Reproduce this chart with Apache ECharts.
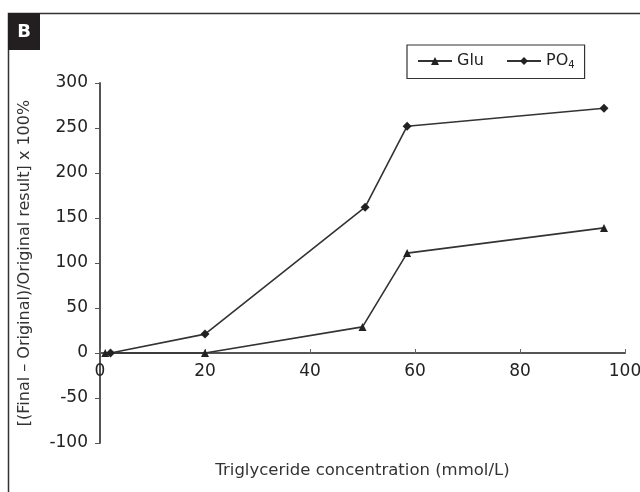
<!DOCTYPE html>
<html>
<head>
<meta charset="utf-8">
<script src="https://cdn.jsdelivr.net/npm/echarts@6/dist/echarts.min.js"></script>
<style>
  html, body { margin: 0; padding: 0; background: #fff; }
  #chart { width: 640px; height: 492px; }
</style>
</head>
<body>
<div id="chart"></div>
<script>
const gluX = [1, 20, 50, 58.5, 96];
const gluY = [0, 0, 29, 111, 139];
const po4X = [2, 20, 50.5, 58.5, 96];
const po4Y = [0, 21, 162, 252, 272];
const seriesNames = ['Glu', 'PO4'];
const xTitle = 'Triglyceride concentration (mmol/L)';
const yTitle = '[(Final \u2013 Original)/Original result] x 100%';
const panelLabel = 'B';

const font = 'DejaVu Sans, sans-serif';
const pair = (xs, ys) => xs.map((x, i) => [x, ys[i]]);

const chart = echarts.init(document.getElementById('chart'));
chart.setOption({
    animation: false,
    textStyle: { fontFamily: font },
    grid: { left: 100, right: 15, top: 83, bottom: 49, outerBoundsMode: 'none', containLabel: false },
    graphic: [
        // outer frame (runs off right/bottom edge)
        { type: 'rect', shape: { x: 8.5, y: 13.5, width: 700, height: 600 },
          style: { fill: 'none', stroke: '#333', lineWidth: 1.5 } },
        { type: 'rect', shape: { x: 8, y: 13, width: 32, height: 37 },
          style: { fill: '#231f20' } },
        { type: 'text', x: 24, y: 32,
          style: { text: panelLabel, fill: '#fff', font: 'bold 18px ' + font,
                   align: 'center', verticalAlign: 'middle' } }
    ],
    legend: {
        data: seriesNames,
        left: 407, top: 45,
        width: 186, height: 35,
        orient: 'horizontal',
        padding: [8, 10, 8, 10],
        borderColor: '#333', borderWidth: 1.2,
        itemWidth: 34, itemHeight: 10, itemGap: 22,
        formatter: name => name === 'PO4' ? 'PO{s|4}' : name,
        textStyle: {
            fontSize: 16, color: '#222', fontFamily: font,
            rich: { s: { fontSize: 10, fontFamily: font, color: '#222', padding: [9, 0, 0, 0] } }
        }
    },
    xAxis: {
        type: 'value',
        min: 0, max: 100, interval: 20,
        name: xTitle,
        nameLocation: 'middle',
        nameGap: 19,
        nameTextStyle: { fontSize: 16.5, color: '#333' },
        axisLine: { onZero: true, lineStyle: { color: '#555', width: 2 } },
        axisTick: { inside: true, length: 4, lineStyle: { color: '#666' } },
        axisLabel: { fontSize: 17, color: '#222', margin: -80 },
        splitLine: { show: false }
    },
    yAxis: {
        type: 'value',
        min: -100, max: 300, interval: 50,
        name: yTitle,
        nameLocation: 'middle',
        nameGap: 67,
        nameTextStyle: { fontSize: 16, color: '#333' },
        axisLine: { show: true, onZero: false, lineStyle: { color: '#555', width: 2 } },
        axisTick: { show: true, length: 5, lineStyle: { color: '#555' } },
        axisLabel: { fontSize: 17, color: '#222', margin: 12 },
        splitLine: { show: false }
    },
    series: [
        {
            name: 'Glu', type: 'line',
            data: pair(gluX, gluY),
            symbol: 'triangle', symbolSize: 8,
            lineStyle: { color: '#333', width: 1.6 },
            itemStyle: { color: '#222' }
        },
        {
            name: 'PO4', type: 'line',
            data: pair(po4X, po4Y),
            symbol: 'diamond', symbolSize: 9,
            lineStyle: { color: '#333', width: 1.6 },
            itemStyle: { color: '#222' }
        }
    ]
});
</script>
</body>
</html>
